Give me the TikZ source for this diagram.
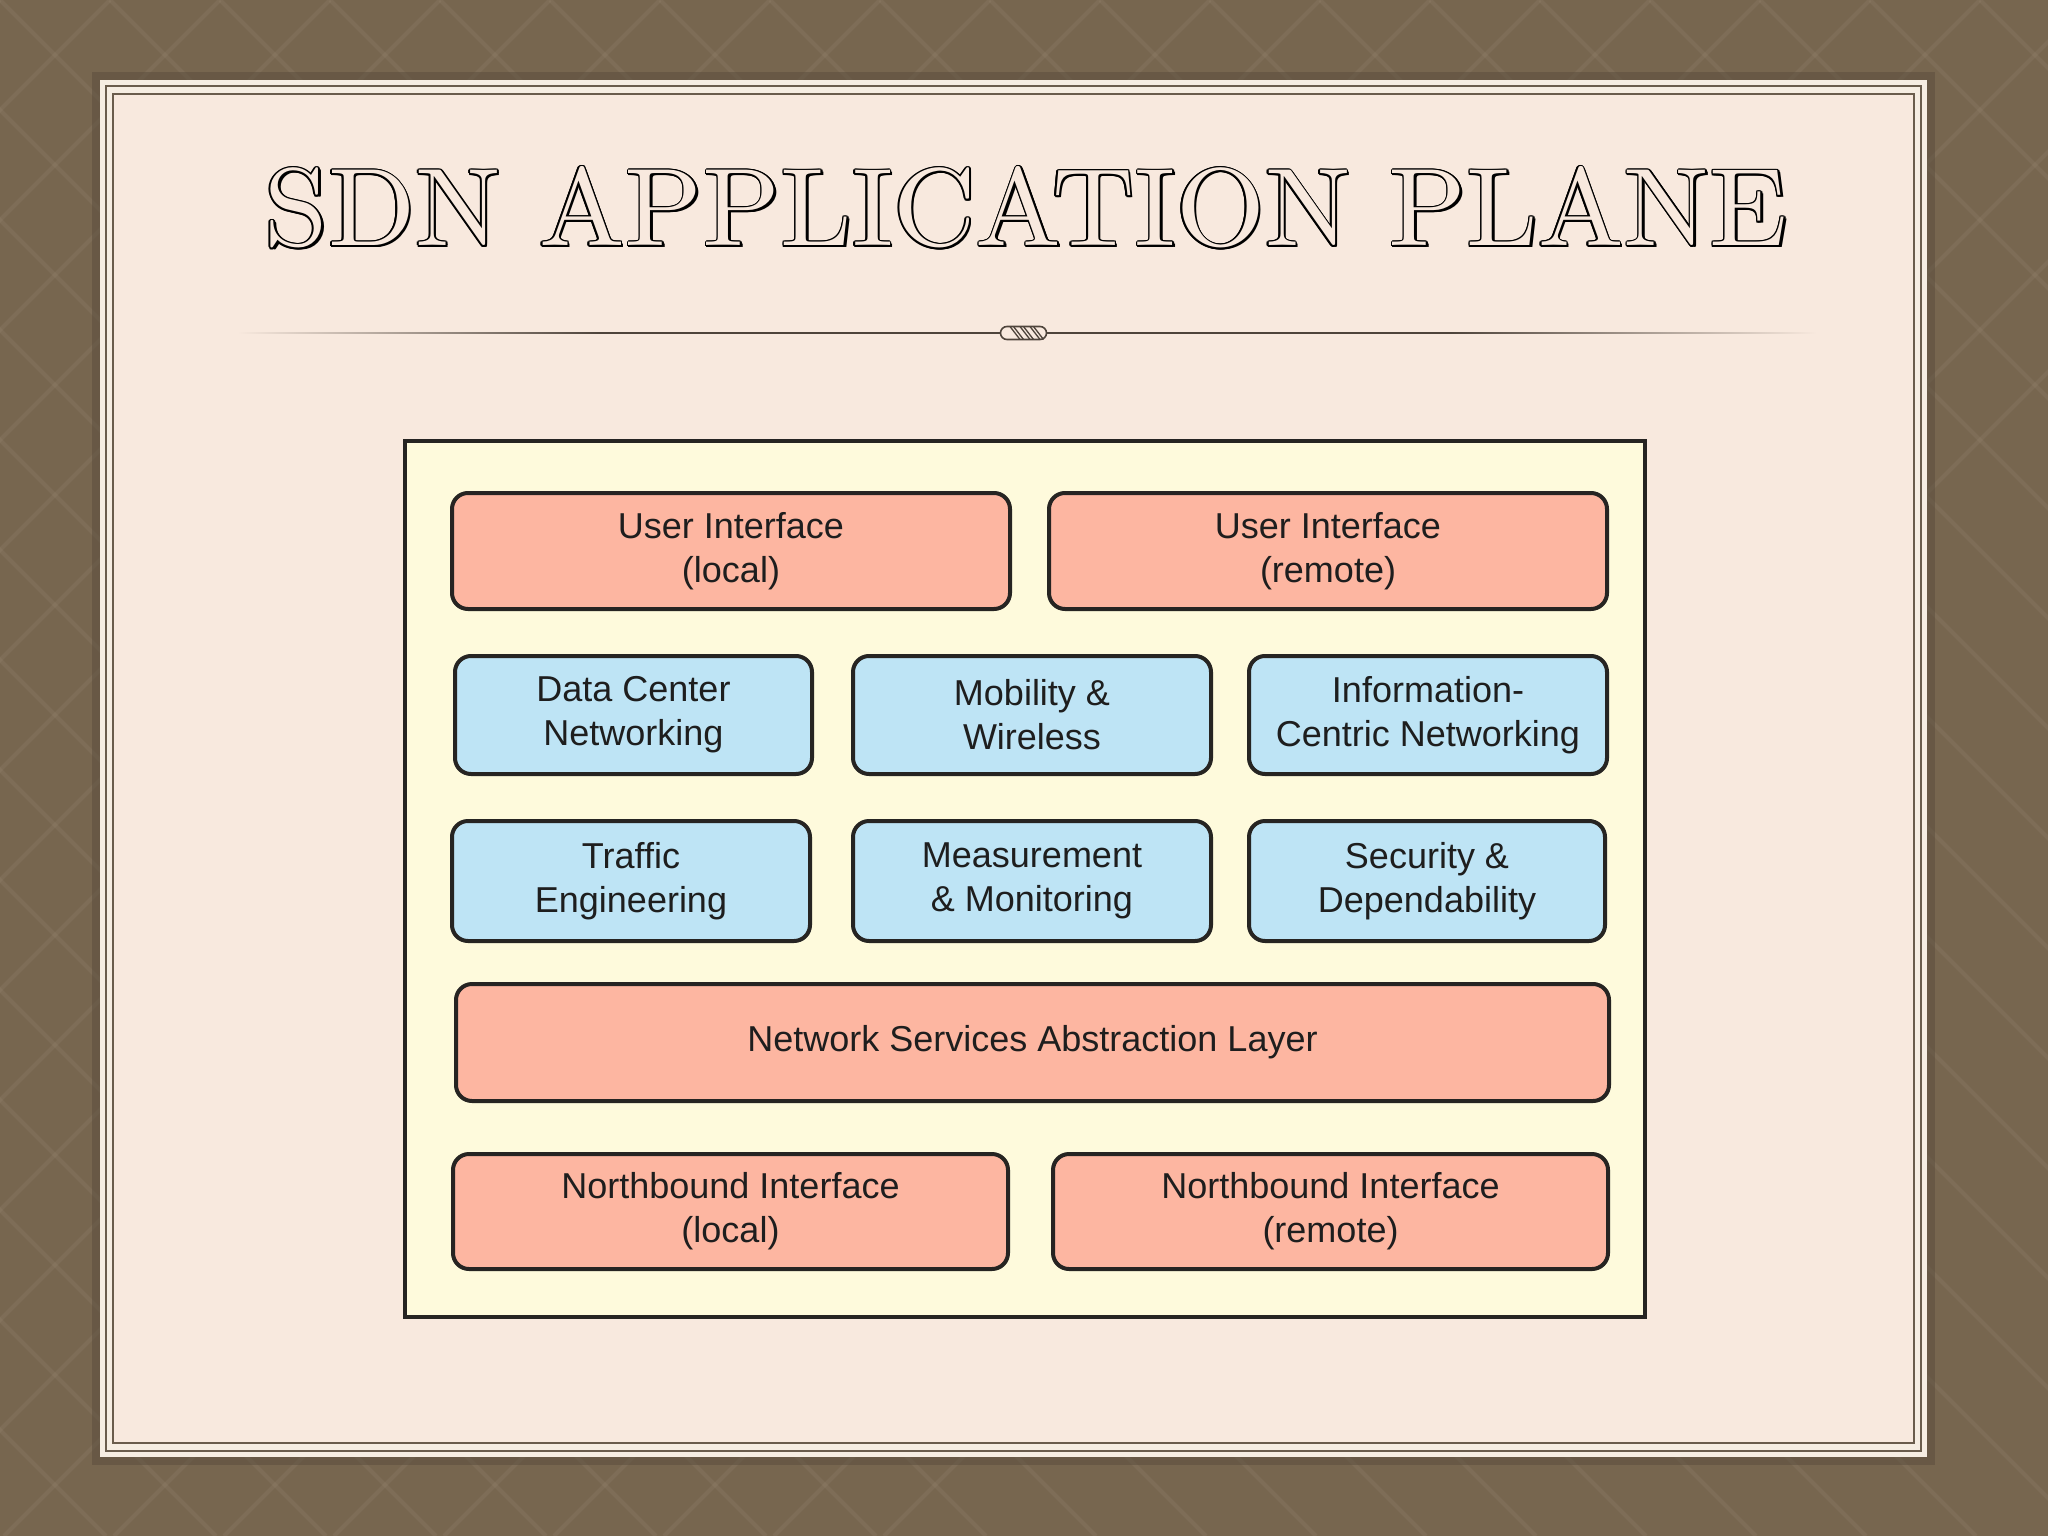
\documentclass[tikz,border=0pt]{standalone}
\usepackage{fontspec}
\usepackage{graphicx}
\newfontfamily\boxfont{Liberation Sans}
\definecolor{framebrown}{HTML}{77664F}
\definecolor{framelight}{HTML}{9A8A74}
\definecolor{framedark}{HTML}{5A4C3C}
\definecolor{panelbg}{HTML}{F8E9DE}
\definecolor{panelstrip}{HTML}{F6EDE2}
\definecolor{panelline}{HTML}{6A5C4C}
\definecolor{divcol}{HTML}{4E443B}
\definecolor{diagbg}{HTML}{FEFADC}
\definecolor{salmonfill}{HTML}{FDB6A1}
\definecolor{bluefill}{HTML}{BEE4F5}
\definecolor{boxline}{HTML}{262422}
\definecolor{boxtext}{HTML}{1E1E1E}
\newcommand\sdntitletext{\resizebox{1522pt}{79pt}{SDN APPLICATION PLANE}}
\begin{document}
\begin{tikzpicture}[x=1pt,y=-1pt,
  blk/.style={draw=boxline, line width=4pt, rounded corners=16pt, text=boxtext,
    align=center, inner sep=0pt,
    font=\boxfont\fontsize{36}{44}\selectfont},
  redbox/.style={blk, fill=salmonfill},
  bluebox/.style={blk, fill=bluefill},
  lattice/.style={draw=framelight, line width=4pt, opacity=0.22}
]
\useasboundingbox (0,0) rectangle (2048,1536);
% frame
\fill[framebrown] (0,0) rectangle (2048,1536);
\begin{scope}
\clip (0,0) rectangle (2048,1536);
\foreach \k in {-16,...,22} {
  \draw[lattice] (\k*110,0) -- ++(1536,1536);
  \draw[lattice] (\k*110,0) -- ++(-1536,1536);
}
\end{scope}
\draw[framedark, line width=8pt, opacity=0.5] (96,76) rectangle (1931,1461);
% panel
\fill[panelstrip] (100,80) rectangle (1927,1457);
\fill[panelbg] (113,94) rectangle (1914,1443);
\draw[panelline, line width=2pt] (106,86) rectangle (1921,1451);
\draw[panelline, line width=2.5pt] (113,94) rectangle (1914,1443);
% title: outlined letters with a shadow
\node[text=black, inner sep=0pt, shift={(2.5,1.2)}] (titleshadow) at (1026,207.5) {\sdntitletext};
\foreach \a in {0,30,...,330}
  \node[text=black, inner sep=0pt, shift={(\a:1.6)}] at (1026,207.5) {\sdntitletext};
\node[text=panelbg, inner sep=0pt] (title) at (1026,207.5) {\sdntitletext};
% divider
\shade[left color=panelbg, right color=divcol] (237,332.2) rectangle (600,333.8);
\fill[divcol] (600,332.2) rectangle (1002,333.8);
\fill[divcol] (1044,332.2) rectangle (1450,333.8);
\shade[left color=divcol, right color=panelbg] (1450,332.2) rectangle (1817,333.8);
\filldraw[fill=panelbg, draw=divcol, line width=1.6pt]
  (1007,326.5) -- (1040,326.5) arc(-90:90:6.5) -- (1007,339.5) arc(90:270:6.5) -- cycle;
\foreach \s in {1010,1020,1030} {
  \draw[divcol, line width=1.3pt] (\s,326.5) -- (\s+10,339.5);
  \draw[divcol, line width=1.3pt] (\s+3.5,326.5) -- (\s+13.5,339.5);
}
% diagram
\node[draw=boxline, line width=4pt, fill=diagbg, minimum width=1240pt, minimum height=876pt, inner sep=0pt] (diagram) at (1025,879) {};
\node[redbox, minimum width=558pt, minimum height=116pt] (uilocal) at (731,551) {User Interface\\(local)};
\node[redbox, minimum width=558pt, minimum height=116pt] (uiremote) at (1328,551) {User Interface\\(remote)};
\node[bluebox, minimum width=357pt, minimum height=118pt] (dcn) at (633.5,715) {Data Center\\Networking};
\node[bluebox, minimum width=358pt, minimum height=118pt] (mob) at (1032,715) {Mobility \&\\Wireless};
\node[bluebox, minimum width=358pt, minimum height=118pt] (icn) at (1428,715) {Information-\\Centric Networking};
\node[bluebox, minimum width=358pt, minimum height=120pt] (te) at (631,881) {Traffic\\Engineering};
\node[bluebox, minimum width=358pt, minimum height=120pt] (meas) at (1032,881) {Measurement\\\& Monitoring};
\node[bluebox, minimum width=356pt, minimum height=120pt] (sec) at (1427,881) {Security \&\\Dependability};
\node[redbox, minimum width=1153pt, minimum height=117pt] (nsal) at (1032.5,1042.5) {Network Services Abstraction Layer};
\node[redbox, minimum width=555pt, minimum height=115pt] (nblocal) at (730.5,1211.5) {Northbound Interface\\(local)};
\node[redbox, minimum width=555pt, minimum height=115pt] (nbremote) at (1330.5,1211.5) {Northbound Interface\\(remote)};
\end{tikzpicture}
\end{document}
